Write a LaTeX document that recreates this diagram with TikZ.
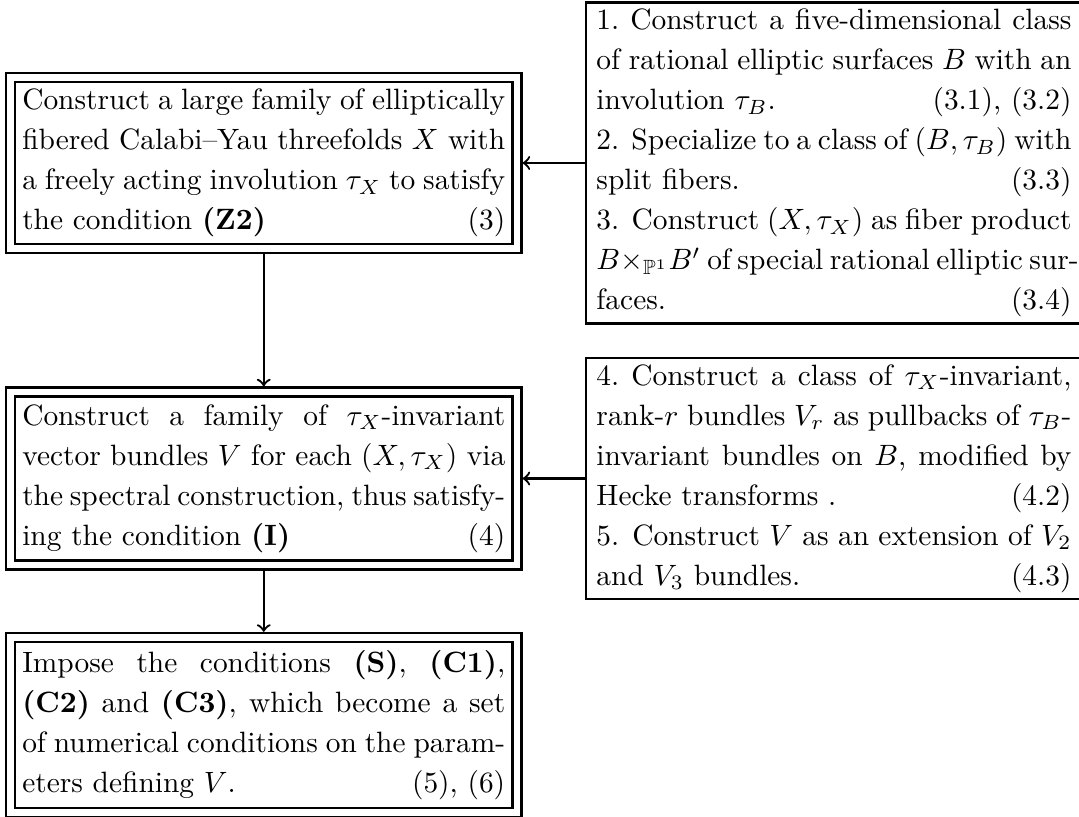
\documentclass[tikz,border=0pt]{standalone}
\usepackage{amssymb}
\begin{document}
\begin{tikzpicture}[x=0.34pt,y=-0.34pt,
  every node/.style={font=\fontsize{10}{13.6}\selectfont},
  lbox/.style={draw, double, double distance=2.28pt, line width=0.78pt,
    text width=164.2pt, inner xsep=3.97pt, inner ysep=0pt, align=justify,
    outer sep=1.94pt, execute at begin node={\setlength{\parindent}{0pt}}},
  rbox/.style={draw, line width=0.78pt, text width=161.5pt,
    inner xsep=3.57pt, inner ysep=0pt, align=justify,
    execute at begin node={\setlength{\parindent}{0pt}}},
  conn/.style={->, line width=0.78pt}]
\useasboundingbox (0,0) rectangle (1079,817);
\clip (0,0) rectangle (1079,817);

\node[lbox, minimum height=58.3pt] (lb1) at (263.75,163)
 {Construct a large family of elliptically fibered Calabi--Yau threefolds $X$ with a freely acting involution $\tau_X$ to satisfy the condition \textbf{(Z2)}\hfill(3)};
\node[lbox, minimum height=58.8pt] (lb2) at (263.75,478.5)
 {Construct a family of $\tau_X$-invariant vector bundles $V$ for each $(X,\tau_X)$ via the spectral construction, thus satisfy\-ing the condition \textbf{(I)}\hfill(4)};
\node[lbox, minimum height=59.5pt] (lb3) at (263.75,725)
 {Impose the conditions \textbf{(S)}, \textbf{(C1)}, \textbf{(C2)} and \textbf{(C3)}, which become a set of numerical conditions on the parameters defining $V$.\hfill\mbox{(5), (6)}};

\node[rbox, minimum height=109.1pt] (rb1) at (834,163)
 {1.\ Construct a five-dimensional class of rational elliptic surfaces $B$ with an involution $\tau_B$.\hfill(3.1), (3.2)\par
  2. Specialize to a class of $(B,\tau_B)$ with split fibers.\hfill(3.3)\par
  3. Construct $(X,\tau_X)$ as fiber product\linebreak
  \hbox to\hsize{$B{\times_{\mathbb{P}^1}}B'$ of special rational elliptic sur-}\linebreak
  faces.\hfill(3.4)};
\node[rbox, minimum height=81.9pt] (rb2) at (834,478.5)
 {4.\ Construct a class of $\tau_X$-invariant, rank-$r$ bundles $V_r$ as pullbacks of $\tau_B$-invariant bundles on $B$, modified by Hecke transforms .\hfill(4.2)\par
  5. Construct $V$ as an extension of $V_2$ and $V_3$ bundles.\hfill(4.3)};

\draw[conn] (rb1.west) -- (lb1.east);
\draw[conn] (rb2.west) -- (lb2.east);
\draw[conn] (lb1.south) -- (lb2.north);
\draw[conn] (lb2.south) -- (lb3.north);
\end{tikzpicture}
\end{document}
